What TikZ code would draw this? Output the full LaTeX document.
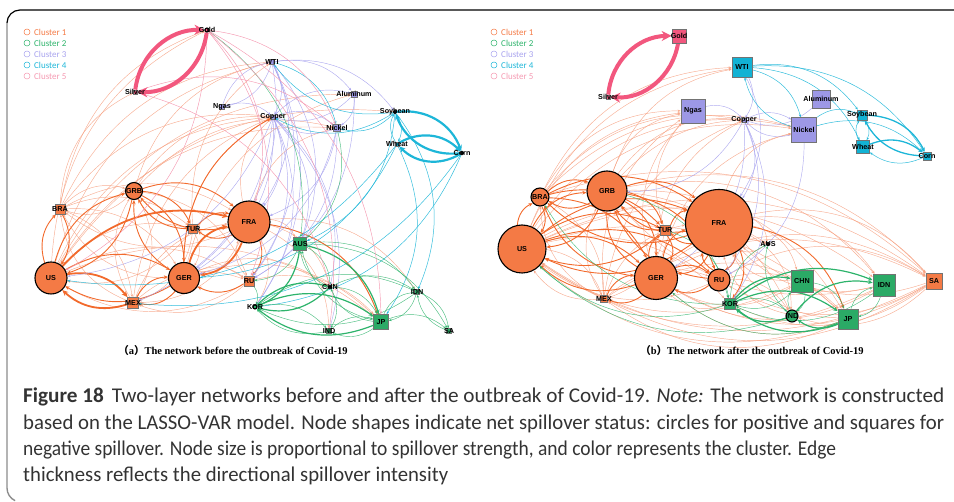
\documentclass[tikz,border=0pt]{standalone}
\usepackage{fontspec}
\setmainfont{Liberation Sans}
\newfontfamily\capfont{Carlito}
\newfontfamily\subfont{Liberation Serif}
\newfontfamily\cjkfont{Noto Sans CJK SC}
\usetikzlibrary{arrows.meta,backgrounds}

\definecolor{orN}{HTML}{F47A45}
\definecolor{orD}{HTML}{F26A2C}
\definecolor{orL}{HTML}{F6A080}
\definecolor{grN}{HTML}{2BAA66}
\definecolor{grE}{HTML}{2DB36B}
\definecolor{lvN}{HTML}{9D98E6}
\definecolor{lvE}{HTML}{A8A3EE}
\definecolor{cyN}{HTML}{12B2D4}
\definecolor{cyE}{HTML}{1DB6D8}
\definecolor{pkN}{HTML}{F2577E}
\definecolor{pkE}{HTML}{F59AB2}
\definecolor{capgray}{HTML}{333333}

\tikzset{
  circ/.style={circle, draw=black, line width=1.1pt, fill=orN, inner sep=0pt, minimum size=#1},
  sqr/.style={rectangle, draw=black!55, line width=0.7pt, inner sep=0pt, minimum size=#1},
  lbl/.style={font=\bfseries\fontsize{7.2}{8}\selectfont, inner sep=0pt},
  leg/.style={font=\capfont\fontsize{9}{10}\selectfont, inner sep=0pt, anchor=west},
  legc/.style={circle, draw=#1, line width=0.5pt, minimum size=6pt, inner sep=0pt},
  arc/.style={bend left=30},
  eo/.style={arc, draw=orL, opacity=0.85, line width=0.45pt, -{Stealth[length=3pt,width=2.4pt]}},
  eO/.style={arc, draw=orD, line width=0.9pt, -{Stealth[length=4.2pt,width=3.6pt]}},
  eX/.style={arc, draw=orD, line width=1.8pt, -{Stealth[length=6pt,width=5.4pt]}},
  eg/.style={arc, draw=grE, opacity=0.85, line width=0.45pt, -{Stealth[length=3pt,width=2.4pt]}},
  eG/.style={arc, draw=grE, line width=1.2pt, -{Stealth[length=4.5pt,width=4pt]}},
  el/.style={arc, draw=lvE, opacity=0.9, line width=0.45pt, -{Stealth[length=3pt,width=2.4pt]}},
  ec/.style={arc, draw=cyE, opacity=0.9, line width=0.5pt, -{Stealth[length=3pt,width=2.4pt]}},
  eCm/.style={arc, draw=cyE, line width=1.3pt, -{Stealth[length=4.5pt,width=4pt]}},
  eC/.style={bend left=38, draw=cyE, line width=2.2pt, -{Stealth[length=6pt,width=5.5pt]}},
  ep/.style={arc, draw=pkE, line width=0.45pt, -{Stealth[length=3pt,width=2.4pt]}},
  eP/.style={bend left=42, draw=pkN, line width=4pt, -{Stealth[length=10pt,width=10pt]}},
  capline/.style={anchor=west, inner sep=0pt, text=capgray, font=\capfont\fontsize{21}{24}\selectfont},
}
\newcommand\links[2]{\foreach \p/\q in {#2} {\draw[#1] (\p) to (\q);}}
\newcommand\capfit[2]{\resizebox{#1}{\height}{#2}}

\begin{document}
\begin{tikzpicture}[x=1pt,y=-1pt]
\useasboundingbox (0,0) rectangle (954,502);

% frame
\draw[black, line width=1.2pt] (7,23) arc[start angle=180, end angle=270, radius=13] -- (954,10);
\draw[black!45, line width=1.4pt] (7,23) -- (7,488) arc[start angle=180, end angle=115, radius=14];

% ---------- legends ----------
\foreach \pre/\x in {a/27, b/494}{
  \node[legc=orN] (\pre L1) at (\x,32) {};
  \node[legc=grE] (\pre L2) at (\x,43) {};
  \node[legc=lvE] (\pre L3) at (\x,54) {};
  \node[legc=cyE] (\pre L4) at (\x,65) {};
  \node[legc=pkE] (\pre L5) at (\x,76) {};
  \node[leg, text=orN] (\pre T1) at (\x+7,32) {Cluster 1};
  \node[leg, text=grE] (\pre T2) at (\x+7,43) {Cluster 2};
  \node[leg, text=lvE] (\pre T3) at (\x+7,54) {Cluster 3};
  \node[leg, text=cyE] (\pre T4) at (\x+7,65) {Cluster 4};
  \node[leg, text=pkE] (\pre T5) at (\x+7,76) {Cluster 5};
}

% ---------- panel (a) nodes ----------
\node[circ=4pt, fill=pkN] (aGold) at (207,30) {};
\node[sqr=4pt, fill=pkN] (aSilver) at (135,92) {};
\node[sqr=5pt, fill=lvN] (aWTI) at (272,62) {};
\node[sqr=5pt, fill=lvN] (aNgas) at (222,107) {};
\node[sqr=6pt, fill=lvN] (aAlum) at (354,94) {};
\node[sqr=4pt, fill=lvN] (aCopper) at (273,117) {};
\node[sqr=7pt, fill=lvN] (aNickel) at (337,128) {};
\node[circ=3pt, fill=cyN] (aSoy) at (395,112) {};
\node[sqr=4pt, fill=cyN] (aWheat) at (397,144) {};
\node[circ=3pt, fill=cyN] (aCorn) at (462,153) {};
\node[circ=17pt] (aGRB) at (134,191) {};
\node[sqr=10pt, fill=orN] (aBRA) at (60,209) {};
\node[circ=42pt] (aFRA) at (249,222) {};
\node[sqr=9pt, fill=orN] (aTUR) at (193,229) {};
\node[sqr=13pt, fill=grN] (aAUS) at (300,244) {};
\node[circ=32pt] (aUS) at (51,278) {};
\node[circ=31pt] (aGER) at (184,278) {};
\node[sqr=10pt, fill=orN] (aRU) at (249,281) {};
\node[sqr=11pt, fill=orN] (aMEX) at (133,303) {};
\node[circ=3pt, fill=grN] (aCHN) at (330,287) {};
\node[sqr=5pt, fill=grN] (aIDN) at (417,292) {};
\node[circ=4pt, fill=grN] (aKOR) at (255,307) {};
\node[sqr=15pt, fill=grN] (aJP) at (381,322) {};
\node[sqr=5pt, fill=grN] (aIND) at (329,331) {};
\node[sqr=5pt, fill=grN] (aSA) at (449,331) {};

% ---------- panel (b) nodes ----------
\node[sqr=14pt, fill=pkN] (bGold) at (679,36) {};
\node[sqr=4pt, fill=pkN] (bSilver) at (608,97) {};
\node[sqr=20pt, fill=cyN] (bWTI) at (742,67) {};
\node[sqr=24pt, fill=lvN] (bNgas) at (693,111) {};
\node[sqr=4pt, fill=lvN] (bCopper) at (744,120) {};
\node[sqr=18pt, fill=lvN] (bAlum) at (821,99) {};
\node[sqr=25pt, fill=lvN] (bNickel) at (804,130) {};
\node[sqr=10pt, fill=cyN] (bSoy) at (862,115) {};
\node[sqr=13pt, fill=cyN] (bWheat) at (863,147) {};
\node[sqr=8pt, fill=cyN] (bCorn) at (927,156) {};
\node[circ=18pt] (bBRA) at (540,197) {};
\node[circ=40pt] (bGRB) at (607,191) {};
\node[circ=67pt] (bFRA) at (719,223) {};
\node[sqr=10pt, fill=orN] (bTUR) at (665,230) {};
\node[circ=48pt] (bUS) at (522,249) {};
\node[circ=3pt, fill=orN] (bAUS) at (768,244) {};
\node[circ=43pt] (bGER) at (656,278) {};
\node[circ=22pt] (bRU) at (719,280) {};
\node[sqr=22pt, fill=grN] (bCHN) at (802,281) {};
\node[sqr=22pt, fill=grN] (bIDN) at (884,285) {};
\node[sqr=16pt, fill=orN] (bSA) at (934,281) {};
\node[sqr=7pt, fill=orN] (bMEX) at (604,299) {};
\node[sqr=11pt, fill=grN] (bKOR) at (730,304) {};
\node[circ=12pt, fill=grN] (bIND) at (792,316) {};
\node[sqr=20pt, fill=grN] (bJP) at (848,319) {};

% ---------- node labels ----------
\foreach \pre in {a,b}{
  \node[lbl] (\pre tGold) at (\pre Gold) {Gold};
  \node[lbl] (\pre tSilver) at (\pre Silver) {Silver};
  \node[lbl] (\pre tWTI) at (\pre WTI) {WTI};
  \node[lbl] (\pre tNgas) at (\pre Ngas) {Ngas};
  \node[lbl] (\pre tAlum) at (\pre Alum) {Aluminum};
  \node[lbl] (\pre tCopper) at (\pre Copper) {Copper};
  \node[lbl] (\pre tNickel) at (\pre Nickel) {Nickel};
  \node[lbl] (\pre tSoy) at (\pre Soy) {Soybean};
  \node[lbl] (\pre tWheat) at (\pre Wheat) {Wheat};
  \node[lbl] (\pre tCorn) at (\pre Corn) {Corn};
  \node[lbl] (\pre tGRB) at (\pre GRB) {GRB};
  \node[lbl] (\pre tBRA) at (\pre BRA) {BRA};
  \node[lbl] (\pre tFRA) at (\pre FRA) {FRA};
  \node[lbl] (\pre tTUR) at (\pre TUR) {TUR};
  \node[lbl] (\pre tAUS) at (\pre AUS) {AUS};
  \node[lbl] (\pre tUS) at (\pre US) {US};
  \node[lbl] (\pre tGER) at (\pre GER) {GER};
  \node[lbl] (\pre tRU) at (\pre RU) {RU};
  \node[lbl] (\pre tMEX) at (\pre MEX) {MEX};
  \node[lbl] (\pre tCHN) at (\pre CHN) {CHN};
  \node[lbl] (\pre tIDN) at (\pre IDN) {IDN};
  \node[lbl] (\pre tKOR) at (\pre KOR) {KOR};
  \node[lbl] (\pre tJP) at (\pre JP) {JP};
  \node[lbl] (\pre tIND) at (\pre IND) {IND};
  \node[lbl] (\pre tSA) at (\pre SA) {SA};
}

% ---------- edges (drawn beneath the nodes) ----------
\begin{pgfonlayer}{background}
% panel (a)
\links{eo}{aUS/aWTI, aBRA/aWTI, aUS/aCopper, aBRA/aCopper, aGRB/aWTI, aGRB/aCopper,
  aGER/aCopper, aFRA/aCopper, aFRA/aNickel, aUS/aNickel, aGRB/aNickel, aGER/aAlum,
  aUS/aSoy, aMEX/aCopper, aTUR/aWTI, aUS/aGold, aBRA/aGold, aBRA/aSilver,
  aBRA/aGRB, aBRA/aFRA, aBRA/aGER, aBRA/aMEX, aBRA/aTUR, aMEX/aGRB, aMEX/aFRA,
  aMEX/aBRA, aTUR/aUS, aTUR/aGER, aTUR/aMEX, aRU/aUS, aRU/aFRA, aRU/aMEX,
  aFRA/aBRA, aGRB/aBRA, aGER/aBRA, aGRB/aMEX, aFRA/aMEX, aUS/aTUR, aUS/aRU,
  aGER/aRU, aFRA/aAUS, aFRA/aCHN, aGER/aJP, aFRA/aJP, aRU/aJP, aGER/aCHN,
  aUS/aJP, aFRA/aIND, aFRA/aKOR, aGRB/aRU, aMEX/aRU, aUS/aAlum, aFRA/aIDN}
\links{eO}{aUS/aGRB, aGRB/aUS, aUS/aBRA, aGER/aGRB, aGRB/aGER, aGRB/aFRA, aFRA/aGRB,
  aTUR/aGRB, aGRB/aTUR, aTUR/aFRA, aFRA/aTUR, aFRA/aRU, aRU/aGER, aGER/aMEX,
  aMEX/aGER, aUS/aGER, aGER/aUS, aBRA/aUS, aGER/aCopper, aFRA/aJP}
\links{eX}{aUS/aFRA, aGER/aFRA, aFRA/aGER, aUS/aMEX, aMEX/aUS}
\links{el}{aWTI/aNgas, aNgas/aWTI, aWTI/aCopper, aWTI/aAlum, aWTI/aSoy, aCopper/aNickel,
  aCopper/aAlum, aAlum/aCopper, aNickel/aCopper, aWTI/aFRA, aWTI/aGER, aWTI/aRU,
  aWTI/aAUS, aWTI/aKOR, aCopper/aFRA, aCopper/aRU, aCopper/aAUS, aCopper/aGER,
  aCopper/aUS, aCopper/aMEX, aCopper/aKOR, aCopper/aCHN, aNickel/aRU, aNickel/aFRA,
  aAlum/aNickel, aNgas/aCopper, aCopper/aIND, aNickel/aGER, aAlum/aRU}
\links{ec}{aSoy/aWTI, aSoy/aCopper, aSoy/aNickel, aWheat/aGER, aSoy/aAUS, aCorn/aKOR,
  aWheat/aJP, aWheat/aUS, aCorn/aMEX, aSoy/aIDN, aWTI/aNickel}
\links{eC}{aSoy/aCorn, aCorn/aWheat, aWheat/aCorn, aCorn/aSoy}
\links{ec}{aSoy/aWheat, aWheat/aSoy}
\links{eg}{aGold/aAUS, aNickel/aAUS, aAUS/aCHN, aAUS/aIDN, aCHN/aAUS, aCHN/aIDN,
  aCHN/aJP, aJP/aCHN, aJP/aAUS, aJP/aIDN, aIDN/aJP, aJP/aSA, aIDN/aSA, aKOR/aIND,
  aIND/aJP, aIDN/aKOR, aKOR/aIDN, aAUS/aSA, aRU/aKOR, aAUS/aRU, aCHN/aIND, aJP/aIND,
  aIND/aKOR, aSA/aIDN}
\links{eG}{aKOR/aJP, aJP/aKOR, aKOR/aCHN, aAUS/aJP, aAUS/aKOR, aCHN/aKOR}
\links{ep}{aGold/aFRA, aGold/aRU, aGold/aNickel, aGold/aJP, aGold/aUS, aGold/aIND,
  aSilver/aNickel, aSilver/aCHN}
\links{eP}{aSilver/aGold, aGold/aSilver}

% panel (b)
\links{eo}{bUS/bWTI, bBRA/bWTI, bUS/bNgas, bUS/bCopper, bBRA/bCopper, bGRB/bCopper,
  bGRB/bNickel, bUS/bNickel, bBRA/bNickel, bGER/bNickel, bGRB/bWTI, bMEX/bNgas,
  bGER/bNgas, bUS/bSA, bGRB/bSA, bFRA/bSA, bGER/bSA, bBRA/bSA, bMEX/bSA, bSA/bUS,
  bSA/bGER, bSA/bMEX, bSA/bKOR, bSA/bFRA, bSA/bRU, bSA/bIND, bIDN/bUS, bIDN/bGRB,
  bGRB/bIDN, bFRA/bIDN, bUS/bIDN, bIDN/bFRA, bIDN/bGER, bJP/bUS, bJP/bGER, bJP/bFRA,
  bGRB/bJP, bJP/bMEX, bCHN/bFRA, bCHN/bGER, bCHN/bUS, bFRA/bCHN, bFRA/bIND,
  bIND/bFRA, bGRB/bIND, bUS/bKOR, bKOR/bGER, bAUS/bFRA, bFRA/bAUS, bRU/bUS,
  bMEX/bFRA, bMEX/bGRB, bMEX/bRU, bTUR/bMEX, bBRA/bMEX, bMEX/bBRA, bMEX/bUS,
  bUS/bMEX, bGER/bCopper, bFRA/bNickel, bMEX/bCopper, bRU/bJP, bRU/bIND, bGER/bJP,
  bUS/bJP, bTUR/bNgas, bBRA/bNgas, bGRB/bNgas, bUS/bAUS, bGER/bAUS, bRU/bSA}
\links{eO}{bUS/bGRB, bGRB/bUS, bUS/bFRA, bFRA/bUS, bGRB/bFRA, bFRA/bGRB, bGER/bFRA,
  bFRA/bGER, bUS/bGER, bGER/bUS, bBRA/bGRB, bGRB/bBRA, bBRA/bFRA, bFRA/bBRA,
  bBRA/bUS, bUS/bBRA, bTUR/bFRA, bFRA/bTUR, bTUR/bUS, bUS/bTUR, bGRB/bGER,
  bGER/bGRB, bRU/bFRA, bFRA/bRU, bRU/bGER, bGER/bRU, bGRB/bRU, bRU/bGRB,
  bTUR/bGER, bGER/bTUR, bBRA/bGER, bGER/bBRA, bMEX/bGER, bGER/bMEX, bUS/bRU,
  bTUR/bGRB, bGRB/bTUR, bBRA/bTUR, bFRA/bKOR, bFRA/bJP}
\links{el}{bAlum/bCopper, bCopper/bNickel, bNgas/bCopper, bWTI/bCopper, bCopper/bFRA,
  bCopper/bRU, bCopper/bKOR, bCopper/bGER, bWTI/bFRA, bNickel/bRU, bCopper/bGRB,
  bNickel/bCopper}
\links{ec}{bWTI/bSoy, bWTI/bCorn, bWTI/bNickel, bNickel/bWTI, bWTI/bWheat, bNickel/bCorn,
  bNickel/bSoy, bSoy/bWheat, bWheat/bSoy, bCorn/bWheat}
\links{eCm}{bSoy/bCorn, bCorn/bSoy, bWheat/bCorn}
\links{eg}{bKOR/bBRA, bKOR/bUS, bIND/bUS, bKOR/bAUS, bIND/bAUS, bGRB/bKOR, bTUR/bKOR,
  bCHN/bJP, bCHN/bIND, bIDN/bJP, bJP/bIDN, bIDN/bKOR, bIND/bCHN, bCHN/bKOR,
  bJP/bGER, bKOR/bIND}
\links{eG}{bKOR/bCHN, bKOR/bIDN, bIND/bKOR, bJP/bKOR, bKOR/bJP, bJP/bIND, bIND/bIDN}
\links{eP}{bSilver/bGold, bGold/bSilver}
\end{pgfonlayer}

% ---------- sub-captions ----------
\node[font=\subfont\bfseries\fontsize{10.5}{12}\selectfont, inner sep=0pt] (capa) at (233,351)
  {{\cjkfont （}a{\cjkfont ）}The network before the outbreak of Covid-19};
\node[font=\subfont\bfseries\fontsize{10.5}{12}\selectfont, inner sep=0pt] (capb) at (752,351)
  {{\cjkfont （}b{\cjkfont ）}The network after the outbreak of Covid-19};

% ---------- figure caption ----------
\node[capline] (cap1) at (23,397) {\capfit{921pt}{\textbf{Figure 18}\hspace{8pt}Two-layer networks before and after the outbreak of Covid-19. \textit{Note:} The network is constructed}};
\node[capline] (cap2) at (23,424) {\capfit{921pt}{based on the LASSO-VAR model. Node shapes indicate net spillover status: circles for positive and squares for}};
\node[capline] (cap3) at (23,450) {\capfit{813pt}{negative spillover. Node size is proportional to spillover strength, and color represents the cluster. Edge}};
\node[capline] (cap4) at (23,476) {\capfit{425pt}{thickness reflects the directional spillover intensity}};
\end{tikzpicture}
\end{document}
